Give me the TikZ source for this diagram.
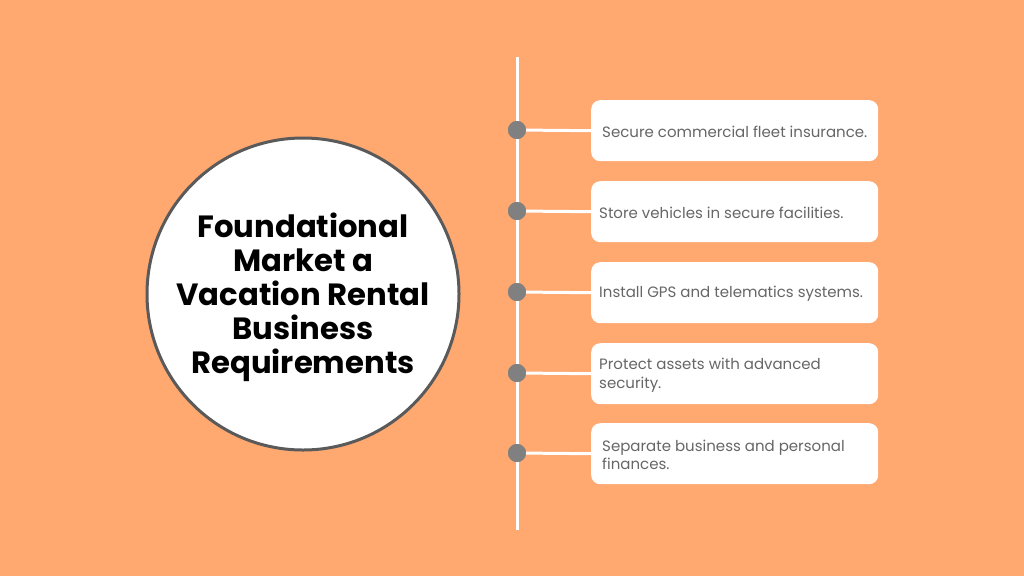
\documentclass[tikz,border=0pt]{standalone}
\usepackage{fontspec}
\setmainfont{Poppins}
\definecolor{bg}{HTML}{FFA870}
\definecolor{ring}{HTML}{5A5A5A}
\definecolor{dotc}{HTML}{808080}
\definecolor{txt}{HTML}{666666}
\begin{document}
\begin{tikzpicture}[x=1pt,y=-1pt,
  stepbox/.style={draw=none,fill=white,rounded corners=9pt,minimum width=287pt,minimum height=61pt,anchor=north west,inner sep=0pt},
  steptext/.style={anchor=west,text=txt,font=\fontsize{15}{18.5}\selectfont,align=left,inner sep=0pt},
  dot/.style={circle,fill=dotc,minimum size=18pt,inner sep=0pt},
  wline/.style={draw=white,line width=3pt}]
\fill[bg] (0,0) rectangle (1024,576);
\useasboundingbox (0,0) rectangle (1024,576);
\node[circle,draw=ring,line width=3pt,fill=white,minimum size=312pt,inner sep=0pt] (c) at (303,294) {};
\node[align=center,font=\bfseries\fontsize{30.7}{34}\selectfont,text=black] (title) at (303,297) {Foundational\\Market a\\Vacation Rental\\Business\\Requirements};
\coordinate (top) at (517,57);
\coordinate (bot) at (517,530);
\draw[wline] (top) -- (bot);
\foreach \i/\y/\tx/\t in {1/100/602/{Secure commercial fleet insurance.},2/181/599/{Store vehicles in secure facilities.},3/262/599/{Install GPS and telematics systems.},4/343/599/{Protect assets with advanced\\security.},5/423/602/{Separate business and personal\\finances.}}{
  \node[stepbox] (b\i) at (591,\y) {};
  \node[dot] (d\i) at (517,\y+30) {};
  \draw[wline] (d\i.center) -- (b\i.west);
  \node[dot] at (517,\y+30) {};
  \node[steptext] (t\i) at (\tx,\y+32) {\t};
}
\end{tikzpicture}
\end{document}
